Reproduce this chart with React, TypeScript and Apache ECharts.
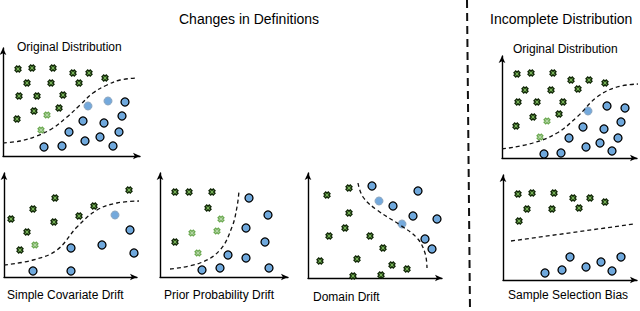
import React, { useEffect, useRef } from "react";
import * as echarts from "echarts";

type P = [number, number];

// Panel 1: Changes in Definitions — Original Distribution
const p1Crosses: P[] = [[15,87],[29,88],[50,88],[70,83],[86,83],[102,78],[24,73],[48,73],[76,73],[16,60],[34,60],[60,61],[31,45],[56,48],[14,37]];
const p1CrossesLight: P[] = [[44,41],[38,26]];
const p1CirclesLight: P[] = [[85,50],[105,55]];
const p1Circles: P[] = [[122,54],[80,35],[101,33],[119,40],[66,24],[82,15],[97,19],[116,24],[41,9],[59,10],[110,10]];
const p1Curve: P[] = [[0,13],[17,15],[34,20],[50,28],[64,39],[77,51],[90,63],[104,71],[117,76],[134,78]];

// Panel 2: Simple Covariate Drift
const p2Crosses: P[] = [[125,87],[51,79],[29,68],[90,71],[75,61],[7,58],[50,55],[23,45],[16,27]];
const p2CrossesLight: P[] = [[31,32]];
const p2CirclesLight: P[] = [[111,62]];
const p2Circles: P[] = [[126,47],[67,29],[98,32],[130,24],[29,6],[67,6]];
const p2Curve: P[] = [[0,12],[29,17],[53,27],[73,50],[93,67],[113,74],[136,76]];

// Panel 3: Prior Probability Drift
const p3Crosses: P[] = [[15,85],[29,85],[52,85],[48,69],[15,35]];
const p3CrossesLight: P[] = [[61,58],[32,44],[57,46],[38,24]];
const p3CirclesLight: P[] = [];
const p3Circles: P[] = [[89,79],[108,62],[86,49],[105,35],[68,22],[86,19],[42,7],[60,9],[109,9]];
const p3Curve: P[] = [[10,8],[40,14],[60,27],[72,50],[77,70],[79,86]];

// Panel 4: Domain Drift
const p4Crosses: P[] = [[19,83],[41,90],[41,65],[37,50],[21,42],[62,42],[75,30],[12,17],[49,19],[84,13],[99,9],[45,2],[73,3]];
const p4CrossesLight: P[] = [];
const p4CirclesLight: P[] = [[71,77],[94,54]];
const p4Circles: P[] = [[64,92],[110,87],[85,72],[105,62],[129,59],[117,39],[124,29]];
const p4Curve: P[] = [[50,95],[55,81],[69,68],[92,53],[109,40],[117,25],[119,10]];

// Panel 5: Incomplete Distribution — Original Distribution
const p5Crosses: P[] = [[15,84],[29,85],[51,85],[69,78],[87,78],[103,75],[23,68],[49,68],[76,69],[16,56],[35,56],[61,56],[31,41],[57,44],[14,32]];
const p5CrossesLight: P[] = [[45,37],[38,21]];
const p5CirclesLight: P[] = [[86,47]];
const p5Circles: P[] = [[105,52],[123,50],[119,36],[81,31],[102,29],[67,20],[84,11],[98,15],[116,20],[42,4],[59,5],[110,7]];
const p5Curve: P[] = [[0,9],[31,15],[55,25],[75,41],[95,61],[115,71],[136,74]];

// Panel 6: Sample Selection Bias
const p6Crosses: P[] = [[15,86],[29,87],[51,87],[70,82],[87,82],[102,78],[24,71],[49,71],[76,72],[16,59]];
const p6CrossesLight: P[] = [];
const p6CirclesLight: P[] = [];
const p6Circles: P[] = [[67,23],[118,23],[98,18],[83,13],[59,10],[109,9],[42,7]];
const p6Curve: P[] = [[8,39],[131,56]];

const panelLabels = ["Original Distribution", "Simple Covariate Drift", "Prior Probability Drift", "Domain Drift", "Original Distribution", "Sample Selection Bias"];
const headers = ["Changes in Definitions", "Incomplete Distribution"];

const panels = [
  { crosses: p1Crosses, crossesLight: p1CrossesLight, circlesLight: p1CirclesLight, circles: p1Circles, curve: p1Curve, smooth: true },
  { crosses: p2Crosses, crossesLight: p2CrossesLight, circlesLight: p2CirclesLight, circles: p2Circles, curve: p2Curve, smooth: true },
  { crosses: p3Crosses, crossesLight: p3CrossesLight, circlesLight: p3CirclesLight, circles: p3Circles, curve: p3Curve, smooth: true },
  { crosses: p4Crosses, crossesLight: p4CrossesLight, circlesLight: p4CirclesLight, circles: p4Circles, curve: p4Curve, smooth: true },
  { crosses: p5Crosses, crossesLight: p5CrossesLight, circlesLight: p5CirclesLight, circles: p5Circles, curve: p5Curve, smooth: true },
  { crosses: p6Crosses, crossesLight: p6CrossesLight, circlesLight: p6CirclesLight, circles: p6Circles, curve: p6Curve, smooth: false },
];

// grid layout (left, top, width, height) in pixels
const grids = [
  { left: 3, top: 48, width: 137, height: 108 },
  { left: 4, top: 173, width: 133, height: 104 },
  { left: 160, top: 173, width: 128, height: 104 },
  { left: 308, top: 173, width: 134, height: 105 },
  { left: 502, top: 56, width: 135, height: 102 },
  { left: 503, top: 175, width: 134, height: 105 },
];

const labelPos = [
  { x: 17, y: 47 },
  { x: 7, y: 295 },
  { x: 164, y: 295 },
  { x: 313, y: 297 },
  { x: 513, y: 49 },
  { x: 508, y: 295 },
];

const crossPath = "path://M3,0H7V3H10V7H7V10H3V7H0V3H3Z";
const FONT = "Liberation Sans, Arial, sans-serif";

export default function App() {
  const ref = useRef<HTMLDivElement>(null);
  useEffect(() => {
    document.body.style.margin = "0";
    if (!ref.current) return;
    const chart = echarts.init(ref.current, undefined, { renderer: "svg" });
    const axisLine = {
      show: true,
      symbol: ["none", "arrow"],
      symbolSize: [5, 7],
      lineStyle: { color: "#000", width: 1.4 },
    };
    const xAxis = grids.map((g, i) => ({
      type: "value", gridIndex: i, min: 0, max: g.width,
      axisLine, axisTick: { show: false }, axisLabel: { show: false }, splitLine: { show: false },
    }));
    const yAxis = grids.map((g, i) => ({
      type: "value", gridIndex: i, min: 0, max: g.height,
      axisLine, axisTick: { show: false }, axisLabel: { show: false }, splitLine: { show: false },
    }));
    const series: any[] = [];
    panels.forEach((p, i) => {
      series.push({
        type: "line", xAxisIndex: i, yAxisIndex: i, data: p.curve, smooth: p.smooth ? 0.4 : false,
        showSymbol: false, symbol: "none", clip: false,
        lineStyle: { color: "#111", width: 1.3, type: [4, 3] },
      });
      series.push({
        type: "scatter", xAxisIndex: i, yAxisIndex: i, data: p.crosses, symbol: crossPath, symbolSize: 6, symbolRotate: 45,
        itemStyle: { color: "#7fbf5e", borderColor: "#122808", borderWidth: 1.4, opacity: 1 },
      });
      series.push({
        type: "scatter", xAxisIndex: i, yAxisIndex: i, data: p.crossesLight, symbol: crossPath, symbolSize: 6, symbolRotate: 45,
        itemStyle: { color: "#b6d7a8", borderColor: "#6aa84f", borderWidth: 1.2, opacity: 1 },
      });
      series.push({
        type: "scatter", xAxisIndex: i, yAxisIndex: i, data: p.circlesLight, symbol: "circle", symbolSize: 8,
        itemStyle: { color: "#74a9dc", borderColor: "#8da6bf", borderWidth: 1, opacity: 1 },
      });
      series.push({
        type: "scatter", xAxisIndex: i, yAxisIndex: i, data: p.circles, symbol: "circle", symbolSize: 8,
        itemStyle: { color: "#6fa8dc", borderColor: "#000", borderWidth: 1.3, opacity: 1 },
      });
    });
    const graphic: any[] = [
      ...panelLabels.map((t, i) => ({
        type: "text", x: labelPos[i].x, y: labelPos[i].y,
        style: { text: t, fill: "#000", font: `12px ${FONT}`, verticalAlign: "middle" },
      })),
      {
        type: "text", x: 179, y: 19,
        style: { text: headers[0], fill: "#000", font: `14px ${FONT}`, verticalAlign: "middle" },
      },
      {
        type: "text", x: 490, y: 19,
        style: { text: headers[1], fill: "#000", font: `14px ${FONT}`, verticalAlign: "middle" },
      },
      {
        type: "line", shape: { x1: 467, y1: 0, x2: 470, y2: 311 },
        style: { stroke: "#111", lineWidth: 2, lineDash: [8, 5] },
      },
    ];
    chart.setOption({
      animation: false,
      backgroundColor: "#fff",
      grid: grids.map((g) => ({ ...g, containLabel: false })),
      xAxis, yAxis, series, graphic,
    });
    return () => chart.dispose();
  }, []);
  return <div ref={ref} style={{ width: 640, height: 311 }} />;
}
